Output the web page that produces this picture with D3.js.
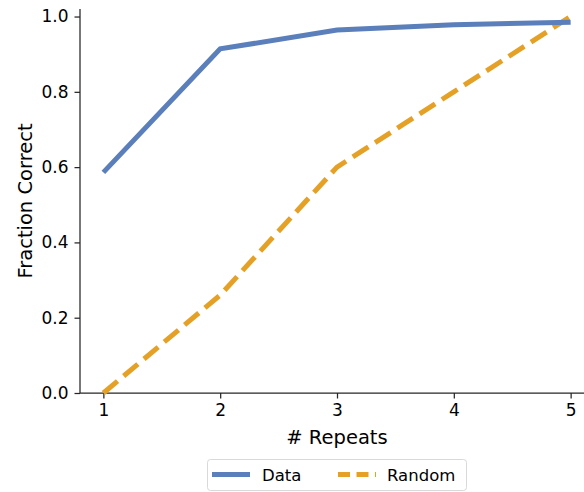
<!DOCTYPE html>
<html><head><meta charset="utf-8">
<script src="https://cdn.jsdelivr.net/npm/d3@7"></script>
<style>body{margin:0;background:#fff}svg{display:block}text{font-family:"DejaVu Sans",sans-serif;fill:#000}</style>
</head><body>
<svg id="c" width="584" height="492"></svg>
<script>
const repeats = [1, 2, 3, 4, 5];
const dataSeries = [0.586, 0.914, 0.964, 0.978, 0.985];
const randomSeries = [0.0, 0.26, 0.60, 0.80, 1.0];
const xTicks = [1, 2, 3, 4, 5];
const yTicks = [0.0, 0.2, 0.4, 0.6, 0.8, 1.0];
const seriesNames = ["Data", "Random"];

const svg = d3.select("#c");
const L = 80, R = 594, T = 9, B = 393;
const x = d3.scaleLinear().domain([0.8, 5.2]).range([L, R]);
const y = d3.scaleLinear().domain([0, 1.02]).range([B, T]);

const gx = svg.append("g").attr("transform", `translate(0,${B})`)
  .call(d3.axisBottom(x).tickValues(xTicks).tickFormat(d3.format("d")).tickSize(5.5).tickPadding(5));
const gy = svg.append("g").attr("transform", `translate(${L},0)`)
  .call(d3.axisLeft(y).tickValues(yTicks).tickFormat(d3.format(".1f")).tickSize(5.5).tickPadding(6));
[gx, gy].forEach(g => {
  g.attr("font-size", null).attr("font-family", null);
  g.selectAll("path.domain").attr("stroke", "#262626").attr("stroke-width", 1.25);
  g.selectAll(".tick line").attr("stroke", "#262626").attr("stroke-width", 1.25);
  g.selectAll(".tick text").attr("font-size", "17").attr("fill", "#000");
});
gx.select("path.domain").attr("d", `M${L},0H${R}`);
gy.select("path.domain").attr("d", `M0,${B}V${T}`);

const line = d3.line().x((d, i) => x(repeats[i])).y(d => y(d));
svg.append("path").datum(randomSeries).attr("d", line)
  .attr("fill", "none").attr("stroke", "#e5a026").attr("stroke-width", 5)
  .attr("stroke-dasharray", "18.5,8");
svg.append("path").datum(dataSeries).attr("d", line)
  .attr("fill", "none").attr("stroke", "#5a7fba").attr("stroke-width", 5);

svg.append("text").attr("x", (L + R) / 2).attr("y", 444).attr("text-anchor", "middle")
  .attr("font-size", "19.5").text("# Repeats");
svg.append("text").attr("transform", `translate(32,${(T + B) / 2}) rotate(-90)`)
  .attr("text-anchor", "middle").attr("font-size", "19.5").text("Fraction Correct");

const lg = svg.append("g");
lg.append("rect").attr("x", 207.5).attr("y", 459.5).attr("width", 259).attr("height", 31).attr("rx", 3)
  .attr("fill", "#fff").attr("stroke", "#d9d9d9").attr("stroke-width", 1);
const legendItems = [
  {name: seriesNames[0], color: "#5a7fba", dash: null, x0: 212, tx: 262},
  {name: seriesNames[1], color: "#e5a026", dash: "12,6.5", x0: 338, tx: 387}
];
legendItems.forEach(it => {
  const l = lg.append("line").attr("x1", it.x0).attr("x2", it.x0 + 38).attr("y1", 474.5).attr("y2", 474.5)
    .attr("stroke", it.color).attr("stroke-width", 5);
  if (it.dash) l.attr("stroke-dasharray", it.dash);
  lg.append("text").attr("x", it.tx).attr("y", 480.5).attr("font-size", "16.5").text(it.name);
});
</script>
</body></html>
